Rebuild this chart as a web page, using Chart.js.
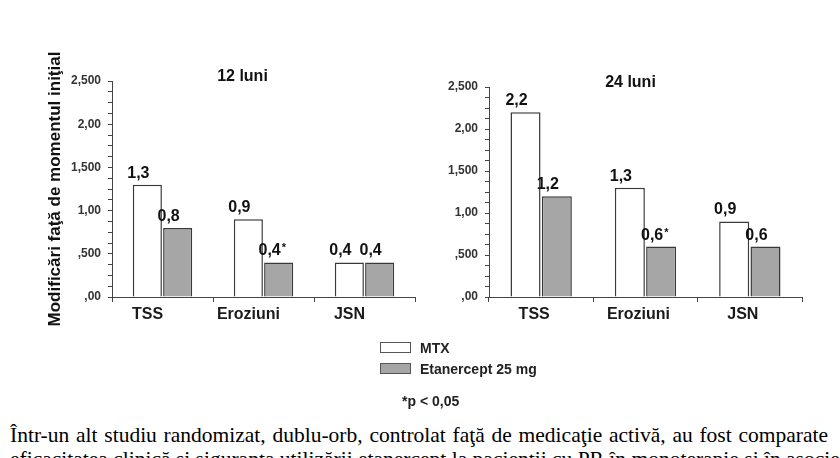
<!DOCTYPE html>
<html lang="ro">
<head>
<meta charset="utf-8">
<title>Modificări faţă de momentul iniţial</title>
<script src="https://cdn.jsdelivr.net/npm/chart.js@4.4.1/dist/chart.umd.min.js"></script>
<style>
  html, body { margin: 0; padding: 0; background: #fff; }
  body { width: 840px; height: 458px; position: relative; overflow: hidden; font-family: "Liberation Sans", Arial, sans-serif; }
  canvas { position: absolute; top: 40px; }
  #chart12 { left: 0; }
  #chart24 { left: 420px; }
  .legend { position: absolute; left: 380px; top: 337px; font-weight: bold; font-size: 14px; color: #222; }
  .legend .row { display: flex; align-items: center; height: 21px; }
  .swatch { width: 29px; height: 9px; border: 1px solid #555; margin-right: 9px; }
  .note { position: absolute; left: 402px; top: 393px; font-weight: bold; font-size: 14px; color: #222; }
  .para { position: absolute; left: 10px; top: 423px; width: 818px; font-family: "Liberation Serif", "Times New Roman", serif; font-size: 21.5px; line-height: 24px; color: #000; }
  .para div { text-align: justify; text-align-last: justify; white-space: nowrap; }
</style>
</head>
<body>
<canvas id="chart12" width="420" height="300"></canvas>
<canvas id="chart24" width="420" height="300"></canvas>

<div class="legend">
  <div class="row"><span class="swatch" style="background:#fff"></span>MTX</div>
  <div class="row"><span class="swatch" style="background:#a6a6a6"></span>Etanercept 25 mg</div>
</div>
<div class="note">*p &lt; 0,05</div>

<div class="para">
  <div>Într-un alt studiu randomizat, dublu-orb, controlat faţă de medicaţie activă, au fost comparate</div>
  <div>eficacitatea clinică şi siguranţa utilizării etanercept la pacienţii cu PR în monoterapie şi în asociere</div>
</div>

<script>
// date
const categories = ['TSS', 'Eroziuni', 'JSN']
const seriesNames = ['MTX', 'Etanercept 25 mg']

const mtx12 = [1.3, 0.9, 0.4]
const eta12 = [0.8, 0.4, 0.4]
const sig12 = [false, true, false]   // asterisc la etanercept

const mtx24 = [2.2, 1.3, 0.9]
const eta24 = [1.2, 0.6, 0.6]
const sig24 = [false, true, false]

const yTickLabels = [',00', ',500', '1,00', '1,500', '2,00', '2,500']
const yTitle = 'Modificări faţă de momentul iniţial'

const FONT = '"Liberation Sans", Arial, sans-serif'

const fmt = v => v.toFixed(1).replace('.', ',')

function tickLabel(v) {
  const i = Math.round(v / 0.5)
  return Math.abs(v - i * 0.5) < 1e-6 ? yTickLabels[i] : ''
}

// titlul fiecarui panou
const panelTitle = {
  id: 'panelTitle',
  afterDraw(chart, args, o) {
    const { ctx, chartArea } = chart
    ctx.save()
    ctx.font = `bold 16px ${FONT}`
    ctx.fillStyle = '#111'
    ctx.textAlign = 'center'
    ctx.textBaseline = 'middle'
    ctx.fillText(o.text, (chartArea.left + chartArea.right) / 2 + o.dx, chartArea.top + o.dy)
    ctx.restore()
  }
}

// valorile deasupra barelor
const valueLabels = {
  id: 'valueLabels',
  afterDatasetsDraw(chart, args, o) {
    const { ctx } = chart
    ctx.save()
    ctx.fillStyle = '#111'
    ctx.textBaseline = 'alphabetic'
    chart.data.datasets.forEach((ds, di) => {
      const meta = chart.getDatasetMeta(di)
      const marks = o.marks[di] || []
      meta.data.forEach((bar, i) => {
        const text = fmt(ds.data[i])
        const x = bar.x + o.dx
        const y = bar.y - 7
        ctx.font = `bold 16px ${FONT}`
        ctx.textAlign = 'center'
        ctx.fillText(text, x, y)
        if (marks[i]) {
          const w = ctx.measureText(text).width
          ctx.font = `bold 11px ${FONT}`
          ctx.textAlign = 'left'
          ctx.fillText('*', x + w / 2 + 1, y - 4)
        }
      })
    })
    ctx.restore()
  }
}

function makePanel(id, mtx, eta, sig, cfg) {
  const ctx = document.getElementById(id).getContext('2d')
  return new Chart(ctx, {
    type: 'bar',
    data: {
      labels: categories,
      datasets: [
        { label: seriesNames[0], data: mtx, backgroundColor: '#ffffff', borderColor: '#3a3a3a', borderWidth: 1.5, borderSkipped: 'bottom' },
        { label: seriesNames[1], data: eta, backgroundColor: '#a6a6a6', borderColor: '#3a3a3a', borderWidth: 1.5, borderSkipped: 'bottom' }
      ]
    },
    options: {
      responsive: false,
      animation: false,
      categoryPercentage: 0.6,
      barPercentage: 0.96,
      layout: { padding: cfg.padding },
      plugins: {
        legend: { display: false },
        tooltip: { enabled: false },
        panelTitle: { text: cfg.title, dx: cfg.titleDx, dy: -4 },
        valueLabels: { dx: -9, marks: [[], sig] }
      },
      scales: {
        x: {
          afterFit: s => { s.height = 40 },
          border: { display: true, color: '#444', width: 1 },
          grid: { offset: true, drawOnChartArea: false, tickLength: 5, color: '#444' },
          ticks: { labelOffset: cfg.labelDx, padding: 3, color: '#1a1a1a', font: { family: FONT, size: 16, weight: 'bold' } }
        },
        y: {
          min: 0,
          max: 2.5,
          afterFit: s => { s.width = cfg.yWidth },
          border: { display: true, color: '#444', width: 1 },
          grid: { drawOnChartArea: false, tickLength: 4, color: '#444' },
          ticks: {
            stepSize: 0.125,
            autoSkip: false,
            padding: 7,
            color: '#333',
            font: { family: FONT, size: 12, weight: 'bold' },
            callback: v => tickLabel(v)
          },
          title: {
            display: cfg.showYTitle,
            text: yTitle,
            color: '#111',
            padding: { top: 0, bottom: 0 },
            font: { family: FONT, size: 17, weight: 'bold' }
          }
        }
      }
    },
    plugins: [panelTitle, valueLabels]
  })
}

makePanel('chart12', mtx12, eta12, sig12, {
  title: '12 luni', titleDx: -21, labelDx: -15, yWidth: 67, showYTitle: true,
  padding: { left: 45, right: 5, top: 41, bottom: 3 }
})

makePanel('chart24', mtx24, eta24, sig24, {
  title: '24 luni', titleDx: -15, labelDx: -7, yWidth: 49, showYTitle: false,
  padding: { left: 20, right: 38, top: 47, bottom: 3 }
})
</script>
</body>
</html>
